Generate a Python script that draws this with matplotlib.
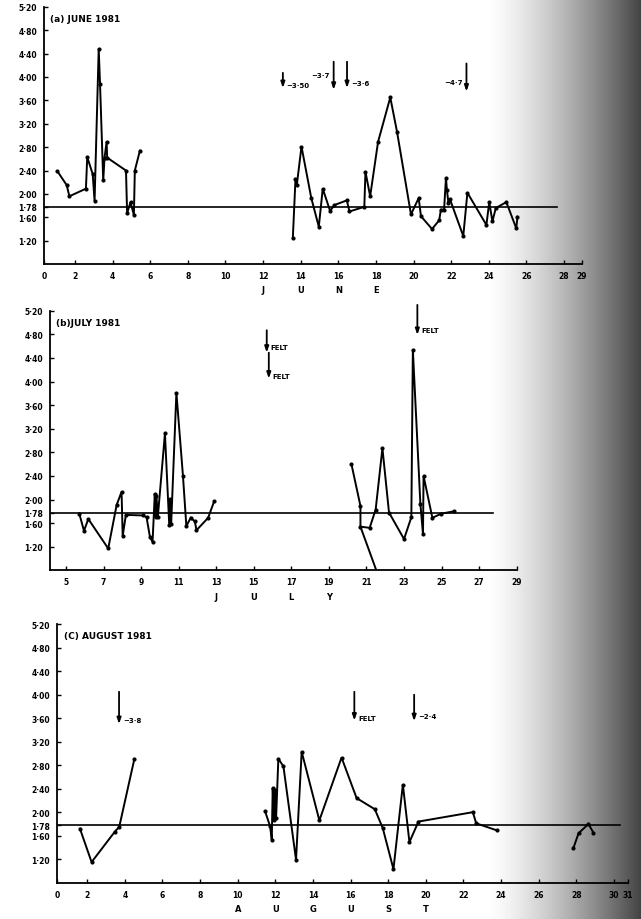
import numpy as np
import matplotlib
matplotlib.use("Agg")
import matplotlib.pyplot as plt
from matplotlib.transforms import blended_transform_factory

# ========== DATA (day of month, value) ==========
MEAN = 1.78

june_d1 = [1.06, 1.56, 1.70, 2.58, 2.65, 2.94, 3.04, 3.26, 3.33, 3.50, 3.57, 3.68, 3.71,
           4.71, 4.77, 4.95, 5.13, 5.18, 5.45]
june_v1 = [2.39, 2.15, 1.96, 2.09, 2.63, 2.34, 1.88, 4.48, 3.88, 2.23, 2.62, 2.89, 2.62,
           2.40, 1.67, 1.86, 1.64, 2.40, 2.74]
june_d2 = [13.58, 13.72, 13.79, 14.04, 14.56, 14.96, 15.17, 15.56, 15.79, 16.45, 16.59,
           17.38, 17.44, 17.69, 18.11, 18.76, 19.12, 19.86, 20.27, 20.39, 20.98, 21.36,
           21.45, 21.62, 21.72, 21.77, 21.85, 21.92, 22.64, 22.86, 23.87, 24.02, 24.19,
           24.37, 24.93, 25.46, 25.52]
june_v2 = [1.25, 2.25, 2.15, 2.81, 1.93, 1.44, 2.09, 1.71, 1.81, 1.89, 1.70,
           1.78, 2.38, 1.96, 2.89, 3.65, 3.06, 1.65, 1.93, 1.62, 1.40, 1.55,
           1.73, 1.73, 2.28, 2.07, 1.85, 1.92, 1.28, 2.02, 1.47, 1.86, 1.53,
           1.76, 1.86, 1.41, 1.61]

july_d1 = [5.71, 5.96, 6.19, 7.25, 7.70, 7.96, 8.02, 8.19, 9.11, 9.29, 9.47, 9.61, 9.73,
           9.77, 9.82, 9.89, 10.27, 10.50, 10.55, 10.60, 10.88, 11.23, 11.41, 11.64,
           11.86, 11.95, 12.57, 12.89]
july_v1 = [1.76, 1.47, 1.67, 1.17, 1.91, 2.13, 1.38, 1.74, 1.73, 1.70, 1.37, 1.28, 2.10,
           1.70, 2.06, 1.70, 3.12, 1.56, 2.01, 1.58, 3.81, 2.40, 1.55, 1.69,
           1.63, 1.48, 1.69, 1.97]
july_d2 = [20.20, 20.68, 20.68, 21.17, 21.49, 21.85, 22.20, 23.00, 23.39, 23.47, 23.87,
           24.01, 24.04, 24.51, 24.98, 25.64]
july_v2 = [2.60, 1.89, 1.54, 1.52, 1.83, 2.87, 1.78, 1.33, 1.70, 4.54, 1.93,
           1.41, 2.40, 1.69, 1.76, 1.80]
july_d3 = [20.68, 21.49]
july_v3 = [1.54, 0.83]

aug_d1 = [1.61, 2.23, 3.47, 3.70, 4.50]
aug_v1 = [1.72, 1.15, 1.67, 1.75, 2.90]
aug_d2 = [11.45, 11.72, 11.81, 11.86, 11.93, 11.98, 12.04, 12.16, 12.43, 13.10, 13.40,
          14.34, 15.52, 16.32, 17.29, 17.71, 18.28, 18.78, 19.13, 19.61, 22.50, 22.68, 23.78]
aug_v2 = [2.02, 1.76, 1.53, 2.41, 1.87, 2.38, 1.90, 2.91, 2.78, 1.19, 3.03,
          1.86, 2.93, 2.24, 2.05, 1.73, 1.03, 2.47, 1.49, 1.84, 2.00, 1.81, 1.69]
aug_d3 = [27.85, 28.12, 28.65, 28.91]
aug_v3 = [1.39, 1.64, 1.80, 1.65]

# event arrows: day, top, bottom, label, label side, label y
june_events = [(13.05, 4.07, 3.81, "~3·50", "r", 3.87),
               (15.75, 4.26, 3.78, "~3·7", "l", 4.04),
               (16.46, 4.26, 3.81, "~3·6", "r", 3.89),
               (22.81, 4.23, 3.75, "~4·7", "l", 3.92)]
july_events = [(15.69, 4.87, 4.49, "FELT", "r", 4.58),
               (15.80, 4.49, 4.05, "FELT", "r", 4.10),
               (23.71, 5.30, 4.79, "FELT", "r", 4.88)]
aug_events = [(3.69, 4.05, 3.50, "~3·8", "r", 3.57),
              (16.20, 4.05, 3.56, "FELT", "r", 3.61),
              (19.38, 4.00, 3.55, "~2·4", "r", 3.63)]

yticks = [1.20, 1.60, 1.78, 2.00, 2.40, 2.80, 3.20, 3.60, 4.00, 4.40, 4.80, 5.20]
ylabels = [f"{v:.2f}".replace(".", "·") for v in yticks]

# ========== FIGURE ==========
fig = plt.figure(figsize=(6.41, 9.2), dpi=100)

# scanner shadow on the right edge
bg = fig.add_axes([0, 0, 1, 1])
xs = np.arange(641)
t = np.clip((xs - 485) / 156.0, 0, 1)
grad = 1 - 0.74 * t ** 1.4
bg.imshow(grad[None, :], extent=[0, 641, 0, 920], aspect="auto", cmap="gray",
          vmin=0, vmax=1)
bg.axis("off")


def setup(ax, x0, x1, xt, xl, title, month, month_x, mean_end):
    ax.set_facecolor("none")
    ax.set_xlim(x0, x1)
    ax.set_ylim(0.8, 5.2)
    for s in ["top", "right"]:
        ax.spines[s].set_visible(False)
    for s in ["left", "bottom"]:
        ax.spines[s].set_linewidth(1.3)
    ax.set_yticks(yticks)
    ax.set_yticklabels(ylabels, fontsize=5.5, fontweight="bold")
    ax.set_xticks(xt)
    ax.set_xticklabels(xl, fontsize=5.5, fontweight="bold")
    ax.tick_params(direction="in", length=3, width=1, pad=5)
    ax.plot([x0, mean_end], [MEAN, MEAN], color="k", lw=1.2)
    ax.text(0.012, 0.955, title, transform=ax.transAxes, fontsize=6.5,
            fontweight="bold", va="center", ha="left")
    tr = blended_transform_factory(ax.transData, ax.transAxes)
    for ch, mx in zip(month, month_x):
        ax.text(mx, -0.1, ch, transform=tr, fontsize=6, fontweight="bold",
                ha="center", va="center")


def events(ax, evs):
    for x, top, bot, lab, side, ly in evs:
        ax.annotate("", xy=(x, bot), xytext=(x, top), annotation_clip=False,
                    arrowprops=dict(arrowstyle="-|>,head_width=0.12,head_length=0.35",
                                    color="k", lw=1.3, shrinkA=0, shrinkB=0))
        if side == "r":
            ax.text(x + 0.2, ly, lab, fontsize=5, fontweight="bold", ha="left", va="center")
        else:
            ax.text(x - 0.2, ly, lab, fontsize=5, fontweight="bold", ha="right", va="center")


def series(ax, d, v):
    ax.plot(d, v, color="k", lw=1.4, marker="o", ms=2.0, solid_joinstyle="miter")


# (a) June
ax1 = fig.add_axes([0.0686, 0.7118, 0.8393, 0.2798])
xt1 = [0.35] + list(range(2, 29, 2)) + [28.95]
xl1 = ["0"] + [str(v) for v in range(2, 29, 2)] + ["29"]
setup(ax1, 0.35, 28.95, xt1, xl1, "(a) JUNE 1981", "JUNE", [12, 14, 16, 18], 27.6)
series(ax1, june_d1, june_v1)
series(ax1, june_d2, june_v2)
events(ax1, june_events)

# (b) July
ax2 = fig.add_axes([0.0780, 0.3790, 0.7281, 0.2821])
xt2 = list(range(5, 30, 2))
xl2 = [str(v) for v in xt2]
setup(ax2, 4.15, 29.0, xt2, xl2, "(b)JULY 1981", "JULY", [13, 15, 17, 19], 27.73)
series(ax2, july_d1, july_v1)
series(ax2, july_d2, july_v2)
ax2.plot(july_d3, july_v3, color="k", lw=1.4, clip_on=False)
events(ax2, july_events)

# (c) August
ax3 = fig.add_axes([0.0889, 0.0395, 0.8908, 0.2809])
xt3 = [0.39] + list(range(2, 31, 2)) + [30.75]
xl3 = ["0"] + [str(v) for v in range(2, 31, 2)] + ["31"]
setup(ax3, 0.39, 30.75, xt3, xl3, "(C) AUGUST 1981", "AUGUST",
      [10, 12, 14, 16, 18, 20], 30.33)
series(ax3, aug_d1, aug_v1)
series(ax3, aug_d2, aug_v2)
series(ax3, aug_d3, aug_v3)
events(ax3, aug_events)

plt.savefig("out.png", dpi=100)
